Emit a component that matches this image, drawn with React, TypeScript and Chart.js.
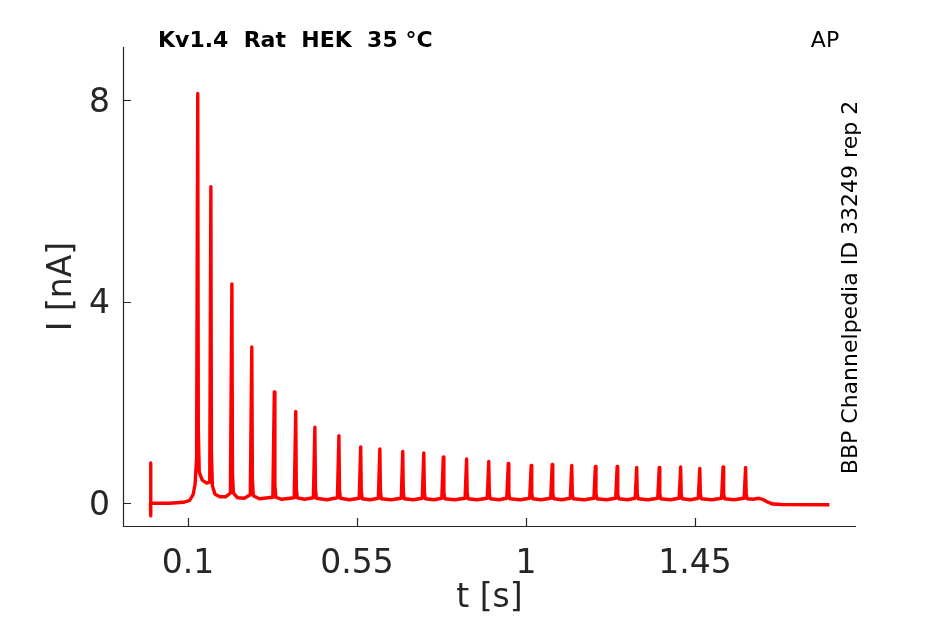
import { useEffect, useRef } from "react";
import { Chart, registerables } from "chart.js";

Chart.register(...registerables);

const traceT = [
  0.0, 0.0004, 0.0008, 0.0015, 0.05, 0.088, 0.105, 0.114, 0.119, 0.123,
  0.126, 0.1275, 0.13, 0.138, 0.15, 0.158,
  0.161, 0.1625, 0.165, 0.172, 0.185, 0.2, 0.213,
  0.217, 0.2185, 0.221, 0.232, 0.25, 0.266,
  0.27, 0.2715, 0.274, 0.29, 0.326,
  0.33, 0.3315, 0.334, 0.35, 0.383,
  0.387, 0.3885, 0.391, 0.41, 0.434,
  0.438, 0.4395, 0.442, 0.47, 0.498,
  0.502, 0.5035, 0.506, 0.53, 0.556,
  0.56, 0.5615, 0.564, 0.585, 0.607,
  0.611, 0.6125, 0.615, 0.64, 0.668,
  0.672, 0.6735, 0.676, 0.7, 0.724,
  0.728, 0.7295, 0.732, 0.755, 0.776,
  0.78, 0.7815, 0.784, 0.81, 0.838,
  0.842, 0.8435, 0.846, 0.87, 0.897,
  0.901, 0.9025, 0.905, 0.928, 0.949,
  0.953, 0.9545, 0.957, 0.985, 1.01,
  1.014, 1.0155, 1.018, 1.04, 1.066,
  1.07, 1.0715, 1.074, 1.095, 1.118,
  1.122, 1.1235, 1.126, 1.155, 1.181,
  1.185, 1.1865, 1.189, 1.215, 1.239,
  1.243, 1.2445, 1.247, 1.27, 1.291,
  1.295, 1.2965, 1.299, 1.325, 1.351,
  1.355, 1.3565, 1.359, 1.385, 1.408,
  1.412, 1.4135, 1.416, 1.438, 1.459,
  1.463, 1.4645, 1.467, 1.495, 1.521,
  1.525, 1.5265, 1.529, 1.555, 1.581,
  1.585, 1.5865, 1.589, 1.605, 1.62, 1.63, 1.641, 1.658, 1.68, 1.808,
];
const traceI = [
  0.0, 0.8, -0.25, 0.0, 0.0, 0.02, 0.06, 0.18, 0.38, 0.9,
  8.13, 1.5, 0.62, 0.46, 0.4, 0.42,
  6.28, 1.0, 0.35, 0.18, 0.13, 0.13, 0.2,
  4.35, 0.6, 0.2, 0.11, 0.1, 0.17,
  3.1, 0.5, 0.15, 0.09, 0.12,
  2.21, 0.35, 0.12, 0.08, 0.11,
  1.82, 0.3, 0.11, 0.08, 0.11,
  1.51, 0.28, 0.1, 0.07, 0.11,
  1.34, 0.26, 0.1, 0.07, 0.1,
  1.12, 0.24, 0.09, 0.07, 0.1,
  1.08, 0.24, 0.09, 0.07, 0.1,
  1.03, 0.22, 0.09, 0.07, 0.1,
  1.0, 0.22, 0.09, 0.07, 0.1,
  0.92, 0.21, 0.09, 0.07, 0.1,
  0.88, 0.21, 0.09, 0.07, 0.1,
  0.83, 0.2, 0.09, 0.07, 0.1,
  0.79, 0.2, 0.09, 0.07, 0.1,
  0.75, 0.2, 0.09, 0.07, 0.1,
  0.77, 0.2, 0.09, 0.07, 0.1,
  0.75, 0.19, 0.09, 0.07, 0.1,
  0.73, 0.19, 0.09, 0.07, 0.1,
  0.73, 0.19, 0.09, 0.07, 0.1,
  0.71, 0.19, 0.09, 0.07, 0.1,
  0.71, 0.19, 0.09, 0.07, 0.1,
  0.72, 0.19, 0.09, 0.07, 0.1,
  0.69, 0.19, 0.09, 0.07, 0.1,
  0.72, 0.19, 0.09, 0.07, 0.1,
  0.71, 0.19, 0.09, 0.08, 0.1, 0.08, 0.035, -0.015, -0.025, -0.03,
];

const xTicks = [0.1, 0.55, 1, 1.45];
const yTicks = [0, 4, 8];
const xMin = -0.073;
const xMax = 1.879;
const yMin = -0.45;
const yMax = 9.05;

const titleText = "Kv1.4  Rat  HEK  35 °C";
const cornerText = "AP";
const sideText = "BBP Channelpedia ID 33249 rep 2";
const xLabel = "t [s]";
const yLabel = "I [nA]";

const INK = "#262626";
const FONT = "'DejaVu Sans', sans-serif";

const decorations = {
  id: "decorations",
  afterDraw(chart: any) {
    const { ctx, chartArea: a, scales } = chart;
    ctx.save();
    ctx.strokeStyle = INK;
    ctx.lineWidth = 1.2;
    ctx.beginPath();
    ctx.moveTo(a.left + 0.5, a.top);
    ctx.lineTo(a.left + 0.5, a.bottom + 0.5);
    ctx.lineTo(a.right, a.bottom + 0.5);
    // inward tick marks
    for (const v of yTicks) {
      const y = Math.round(scales.y.getPixelForValue(v)) + 0.5;
      ctx.moveTo(a.left, y);
      ctx.lineTo(a.left + 8, y);
    }
    for (const v of xTicks) {
      const x = Math.round(scales.x.getPixelForValue(v)) + 0.5;
      ctx.moveTo(x, a.bottom);
      ctx.lineTo(x, a.bottom - 8);
    }
    ctx.stroke();

    ctx.fillStyle = "#000";
    ctx.font = `bold 22px ${FONT}`;
    ctx.textAlign = "left";
    ctx.textBaseline = "alphabetic";
    ctx.fillText(titleText, 158, 46.5);

    ctx.font = `22px ${FONT}`;
    ctx.textAlign = "center";
    ctx.fillText(cornerText, 825, 46.5);

    ctx.save();
    ctx.translate(857, 287.5);
    ctx.rotate(-Math.PI / 2);
    ctx.font = `22px ${FONT}`;
    ctx.fillText(sideText, 0, 0);
    ctx.restore();

    ctx.fillStyle = INK;
    ctx.font = `33px ${FONT}`;
    ctx.fillText(xLabel, (a.left + a.right) / 2, 606.5);

    ctx.save();
    ctx.translate(70.5, (a.top + a.bottom) / 2);
    ctx.rotate(-Math.PI / 2);
    ctx.fillText(yLabel, 0, 0);
    ctx.restore();

    ctx.restore();
  },
};

export default function App() {
  const canvasRef = useRef<HTMLCanvasElement>(null);
  const chartRef = useRef<Chart | null>(null);

  useEffect(() => {
    if (!canvasRef.current) return;
    if (chartRef.current) chartRef.current.destroy();

    chartRef.current = new Chart(canvasRef.current, {
      type: "line",
      data: {
        datasets: [
          {
            data: traceT.map((t, i) => ({ x: t, y: traceI[i] })),
            borderColor: "#ff0000",
            borderWidth: 3.4,
            borderJoinStyle: "round",
            pointRadius: 0,
            tension: 0,
          },
        ],
      },
      options: {
        animation: false,
        responsive: false,
        devicePixelRatio: 1,
        layout: { padding: { top: 47, right: 89, left: 0, bottom: 0 } },
        plugins: { legend: { display: false }, tooltip: { enabled: false } },
        scales: {
          x: {
            type: "linear",
            min: xMin,
            max: xMax,
            grid: { display: false, drawTicks: false },
            border: { display: false },
            afterBuildTicks: (s: any) => {
              s.ticks = xTicks.map((v) => ({ value: v }));
            },
            afterFit: (s: any) => {
              s.height = 98;
            },
            ticks: {
              color: INK,
              padding: 19,
              maxRotation: 0,
              font: { family: FONT, size: 33 },
              callback: (v: any) => String(v),
            },
          },
          y: {
            type: "linear",
            min: yMin,
            max: yMax,
            grid: { display: false, drawTicks: false },
            border: { display: false },
            afterBuildTicks: (s: any) => {
              s.ticks = yTicks.map((v) => ({ value: v }));
            },
            afterFit: (s: any) => {
              s.width = 123;
            },
            ticks: {
              color: INK,
              padding: 13,
              labelOffset: 3,
              font: { family: FONT, size: 33 },
              callback: (v: any) => String(v),
            },
          },
        },
      },
      plugins: [decorations],
    });

    return () => {
      if (chartRef.current) {
        chartRef.current.destroy();
        chartRef.current = null;
      }
    };
  }, []);

  return (
    <div style={{ position: "fixed", left: 0, top: 0, width: 945, height: 624, background: "#fff" }}>
      <canvas ref={canvasRef} width={945} height={624}></canvas>
    </div>
  );
}
